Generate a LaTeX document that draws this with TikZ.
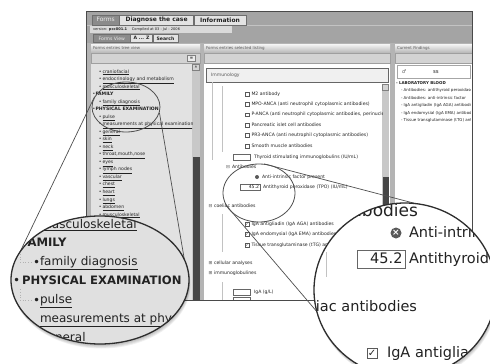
\documentclass[tikz,border=0pt]{standalone}
\usepackage{fontspec}
\setmainfont{DejaVu Sans}
\usetikzlibrary{shapes.geometric}

\definecolor{ink}{HTML}{222222}
\definecolor{dim}{HTML}{595959}
\definecolor{frameline}{HTML}{4A4A4A}
\definecolor{titlebar}{HTML}{A4A4A4}
\definecolor{tabdark}{HTML}{8B8B8B}
\definecolor{tablight}{HTML}{E3E3E3}
\definecolor{panelgap}{HTML}{B4B4B4}
\definecolor{barbg}{HTML}{D3D3D3}
\definecolor{treebg}{HTML}{E2E2E2}
\definecolor{lensbg}{HTML}{E0E0E0}
\definecolor{thumb}{HTML}{464646}
\definecolor{track}{HTML}{C8C8C8}
\definecolor{guide}{HTML}{C2C2C2}
\definecolor{lensline}{HTML}{2E2E2E}
\definecolor{srcline}{HTML}{4F4F4F}

\newcommand\fsz[1]{\fontsize{#1}{#1}\selectfont}
\newcommand\lnk[1]{\underline{#1}}

\tikzset{
  lbl/.style={inner sep=0pt, outer sep=0pt, anchor=west, text=ink},
  ui/.style={lbl, font=\fsz{4.6}, text height=3.4pt, text depth=1pt},
  uib/.style={ui, font=\fsz{4.6}\bfseries},
  hdr/.style={lbl, font=\fsz{4}, text=dim, text height=3pt, text depth=.9pt},
  rli/.style={lbl, font=\fsz{4}, text height=3pt, text depth=.9pt},
  bigL/.style={lbl, font=\fsz{12}, text height=9pt, text depth=2.6pt},
  bigLb/.style={bigL, font=\fsz{11.6}\bfseries},
  bigR/.style={lbl, font=\fsz{14.5}, text height=10.6pt, text depth=3pt},
  tabx/.style={anchor=south west, inner sep=0pt, draw=frameline!80, line width=.4pt, text=ink},
  cbox/.style={draw=gray!70!black, fill=white, minimum size=3.8pt, inner sep=0pt, line width=.35pt},
  cboxon/.style={cbox, font=\fsz{3.4}, text=ink},
  field/.style={draw=gray!80!black, fill=white, minimum height=5.5pt, inner sep=0pt, line width=.35pt},
  srcring/.style={ellipse, draw=srcline, line width=.8pt, inner sep=0pt},
  link/.style={draw=srcline, line width=.7pt},
  lensedge/.style={draw=lensline, line width=1.3pt},
}

\begin{document}
\begin{tikzpicture}[x=1pt,y=-1pt]
\useasboundingbox (0,0) rectangle (490,364);
\fill[white] (0,0) rectangle (490,364);

% ---------- application window ----------
\fill[panelgap] (86,11) rectangle (472,300);
\fill[titlebar] (86,11) rectangle (472,43);
\fill[white,opacity=.35] (86,24.5) rectangle (472,26);
\fill[tablight!85!titlebar] (90,26) rectangle (232,32.5);

% top tabs
\node[tabx, fill=tabdark, text=white!92!black, font=\fsz{6}, minimum height=10pt, minimum width=27pt] (tabForms) at (92,25) {Forms};
\node[tabx, fill=tablight, font=\fsz{6}\bfseries, minimum height=10pt, minimum width=74pt] (tabDiag) at (tabForms.south east) {Diagnose the case};
\node[tabx, fill=tablight, font=\fsz{6}\bfseries, minimum height=10pt, minimum width=52pt] (tabInfo) at (tabDiag.south east) {Information};
\node[hdr, font=\fsz{3.6}, text=ink] (ver) at (93,29.3) {version: \textbf{pcc001.1} \quad Compiled at 03 - Jul - 2006};

% view tabs
\node[tabx, fill=tabdark, text=white!92!black, font=\fsz{4.6}, minimum height=8pt, minimum width=37pt] (tabView) at (93,42.5) {Forms View};
\node[tabx, fill=tablight, font=\fsz{4.6}\bfseries, minimum height=8pt, minimum width=22pt] (tabAZ) at (tabView.south east) {A ... Z};
\node[tabx, fill=tablight, font=\fsz{4.6}\bfseries, minimum height=8pt, minimum width=25pt] (tabSearch) at (tabAZ.south east) {Search};

% panel headers and tool rows
\foreach \n/\a/\b/\t in {L/91/200/Forms entries tree view, M/204/390/Forms entries selected listing, R/395/472/Current Findings}{
  \shade[top color=white!92!gray, bottom color=gray!55] (\a,44) rectangle (\b,52.5);
  \node[hdr] (hd\n) at (\a+2,48.3) {\t};
  \filldraw[fill=barbg, draw=gray!75, line width=.4pt] (\a,53) rectangle (\b,63);
}

% left panel: tree view
\fill[treebg] (91,63.5) rectangle (192,300);
\fill[track] (192,63.5) rectangle (200,300);
\fill[thumb] (193,157) rectangle (200,300);
\draw[gray, fill=barbg, line width=.3pt] (192.5,64) rectangle (199.5,70);
\node[font=\fsz{3}, text=dim, inner sep=0pt] (lup) at (196,67) {▲};
\node[draw=gray, fill=white!85!gray, minimum width=8pt, minimum height=6pt, inner sep=0pt, font=\fsz{4}, line width=.3pt] (lbtn) at (191.5,58) {≡};
\begin{scope}
  \clip (91,63.5) rectangle (192,300);
  \foreach \i/\t in {0/craniofacial,1/endocrinology and metabolism,2/musculoskeletal,4/family diagnosis,6/pulse,7/measurements at physical examination,8/general,9/skin,10/neck,11/{throat,mouth,nose},12/eyes,13/lymph nodes,14/vascular,15/chest,16/heart,17/lungs,18/abdomen,19/musculoskeletal}{
    \node[ui] (tb\i) at (98.8,71.8+7.53*\i) {•};
    \node[ui] (tt\i) at (102.5,71.8+7.53*\i) {\lnk{\t}};
  }
  \node[ui] (tb3) at (92.5,94.4) {•};
  \node[uib] (tt3) at (95.5,94.4) {FAMILY};
  \node[ui] (tb5) at (92.5,109.5) {•};
  \node[uib] (tt5) at (95.5,109.5) {PHYSICAL EXAMINATION};
\end{scope}

% middle panel: selected listing
\fill[white] (204,63.5) rectangle (390,300);
\node[draw=gray!80!black, fill=gray!12, minimum width=182pt, minimum height=14pt, anchor=north west, inner sep=0pt, line width=.5pt] (immu) at (206,68) {};
\node[ui, text=dim] (immuT) at (211,75) {Immunology};
\fill[track] (382,84) rectangle (389,300);
\fill[thumb] (382.5,177) rectangle (388.5,240);
\draw[gray, fill=barbg, line width=.3pt] (382.5,84.5) rectangle (388.5,90);
\begin{scope}
  \clip (204,82.5) rectangle (382,300);
  \draw[guide, line width=.4pt] (212,82) -- (212,160) (222,86) -- (222,152) (222,214) -- (222,252) (222,282) -- (222,300);
  \node[cbox] (mc1) at (247,94) {};      \node[ui] (mt1) at (251.5,94) {M2 antibody};
  \node[cbox] (mc2) at (247,104.3) {};   \node[ui] (mt2) at (251.5,104.3) {MPO-ANCA (anti neutrophil cytoplasmic antibodies)};
  \node[cbox] (mc3) at (247,114.6) {};   \node[ui] (mt3) at (251.5,114.6) {P-ANCA (anti neutrophil cytoplasmic antibodies, perinuclear)};
  \node[cbox] (mc4) at (247,125) {};     \node[ui] (mt4) at (251.5,125) {Pancreatic islet cell antibodies};
  \node[cbox] (mc5) at (247,135.5) {};   \node[ui] (mt5) at (251.5,135.5) {PR3-ANCA (anti neutrophil cytoplasmic antibodies)};
  \node[cbox] (mc6) at (247,146) {};     \node[ui] (mt6) at (251.5,146) {Smooth muscle antibodies};
  \node[field, minimum width=17pt] (mf1) at (241.5,157) {};
  \node[ui] (mt7) at (254,157) {Thyroid stimulating immunoglobulins (IU/mL)};
  \node[ui, text=dim] (mi1) at (226,167) {⊟};
  \node[ui] (mt8) at (232,167) {Antibodies};
  \node[circle, fill=gray!70!black, minimum size=4pt, inner sep=0pt] (mx1) at (257,177) {};
  \node[ui] (mt9) at (262,177) {Anti-intrinsic factor present};
  \node[field, minimum width=20pt] (mf2) at (250,187) {};
  \node[ui, anchor=east] (mv2) at (259,187) {45.2};
  \node[ui] (mt10) at (263,187) {Antithyroid peroxidase (TPO) (IU/mL)};
  \node[ui, text=dim] (mi2) at (208.5,206) {⊟};
  \node[ui] (mt11) at (214,206) {coeliac antibodies};
  \node[cboxon] (mc7) at (247,224) {✓};  \node[ui] (mt12) at (251.5,224) {IgA antigliadin (IgA AGA) antibodies};
  \node[cboxon] (mc8) at (247,234.5) {✓};\node[ui] (mt13) at (251.5,234.5) {IgA endomysial (IgA EMA) antibodies};
  \node[cboxon] (mc9) at (247,245) {✓};  \node[ui] (mt14) at (251.5,245) {Tissue transglutaminase (tTG) antibodies};
  \node[ui, text=dim] (mi3) at (208.5,263) {⊞};
  \node[ui] (mt15) at (214,263) {cellular analyses};
  \node[ui, text=dim] (mi4) at (208.5,273) {⊞};
  \node[ui] (mt16) at (214,273) {immunoglobulines};
  \node[field, minimum width=17pt] (mf3) at (241.5,292) {};
  \node[ui] (mt17) at (254,292) {IgA (g/L)};
  \node[field, minimum width=17pt] (mf4) at (241.5,300) {};
\end{scope}

% right panel: current findings
\fill[white] (395,63.5) rectangle (472,300);
\draw[gray!70, fill=white, line width=.4pt] (397,65.5) rectangle (470,78);
\node[font=\fsz{5}, text=dim, inner sep=0pt] (rIco) at (404,72) {♂};
\node[font=\fsz{4}\bfseries, text=dim, inner sep=0pt] (rSS) at (436,72) {SS};
\begin{scope}
  \clip (395,79) rectangle (470,300);
  \node[rli, font=\fsz{4}\bfseries] (rLab) at (396,83) {- LABORATORY BLOOD};
  \node[rli] (rA1) at (401,90.5) {- Antibodies: antithyroid peroxidase (TPO)};
  \node[rli] (rA2) at (401,98) {- Antibodies: anti-intrinsic factor};
  \node[rli] (rA3) at (401,105.5) {- IgA antigliadin (IgA AGA) antibodies};
  \node[rli] (rA4) at (401,113) {- IgA endomysial (IgA EMA) antibodies};
  \node[rli] (rA5) at (401,120.5) {- Tissue transglutaminase (tTG) antibodies};
\end{scope}

\draw[frameline, line width=.9pt] (86,11) rectangle (472,300);

% ---------- magnified spots ----------
\node[srcring, minimum width=68pt, minimum height=50pt] (srcL) at (126,107) {};
\node[srcring, minimum width=72pt, minimum height=58pt] (srcM) at (259,193) {};
\coordinate (lensLa) at (20,252);
\coordinate (lensLb) at (188,281);
\coordinate (lensRa) at (421,205);
\coordinate (lensRb) at (318,313);
\draw[link] (srcL.162) -- (lensLa);
\draw[link] (srcL.-10) -- (lensLb);
\draw[link] (srcM.80) -- (lensRa);
\draw[link] (srcM.199) -- (lensRb);

% left lens
\foreach \k in {1,...,5}
  \fill[black, opacity=.06] (100+.3*\k,280+.9*\k) ellipse [x radius=89pt, y radius=64pt];
\fill[lensbg] (100,280) ellipse [x radius=89pt, y radius=64pt];
\begin{scope}
  \clip (100,280) ellipse [x radius=89pt, y radius=64pt];
  \node[bigL] (zb0) at (33,225) {•};
  \node[bigL] (zt0) at (40,225) {\lnk{musculoskeletal}};
  \node[bigLb] (zt1) at (21,243.5) {FAMILY};
  \node[bigL] (zb1) at (13,243.5) {•};
  \draw[gray!60, dotted, line width=.8pt] (20,251) -- (20,262.5) -- (31,262.5);
  \node[bigL] (zb2) at (33,263) {•};
  \node[bigL] (zt2) at (40,262.5) {\lnk{family diagnosis}};
  \node[bigL] (zb3) at (13,281.5) {•};
  \node[bigLb] (zt3) at (22,281.5) {PHYSICAL EXAMINATION};
  \draw[gray!60, dotted, line width=.8pt] (20,289) -- (20,300.5) -- (31,300.5);
  \node[bigL] (zb4) at (33,301) {•};
  \node[bigL] (zt4) at (40,300.5) {\lnk{pulse}};
  \node[bigL] (zt5) at (40,319.5) {\lnk{measurements at physical examination}};
  \node[bigL] (zt6) at (40,338.5) {\lnk{general}};
\end{scope}
\draw[lensedge] (100,280) ellipse [x radius=89pt, y radius=64pt];

% right lens
\foreach \k in {1,...,5}
  \fill[black, opacity=.06] (405+.3*\k,290+.9*\k) ellipse [x radius=91pt, y radius=87pt];
\fill[white] (405,290) ellipse [x radius=91pt, y radius=87pt];
\begin{scope}
  \clip (405,290) ellipse [x radius=91pt, y radius=87pt];
  \node[bigR, font=\fsz{17}, anchor=east] (zr0) at (418,212.5) {Antibodies};
  \node[circle, fill=gray!70!black, minimum size=11pt, inner sep=0pt, text=white, font=\fsz{9}\bfseries] (zrx) at (396,233) {×};
  \node[bigR] (zr1) at (409,233.5) {Anti-intrinsic factor present};
  \node[field, minimum width=48pt, minimum height=18pt, line width=.7pt] (zrf) at (381,259) {};
  \node[bigR, anchor=east] (zrv) at (402.5,259.5) {45.2};
  \node[bigR] (zr2) at (409,259.5) {Antithyroid peroxidase};
  \draw[guide, line width=.8pt] (326,252) -- (326,277);
  \node[bigR, anchor=east] (zr3) at (417,308) {coeliac antibodies};
  \node[cbox, minimum size=10pt, line width=.7pt, font=\fsz{10}, text=ink] (zrc) at (372,353) {✓};
  \node[bigR] (zr4) at (387,354) {IgA antigliadin};
\end{scope}
\draw[lensedge] (405,290) ellipse [x radius=91pt, y radius=87pt];
\end{tikzpicture}
\end{document}
